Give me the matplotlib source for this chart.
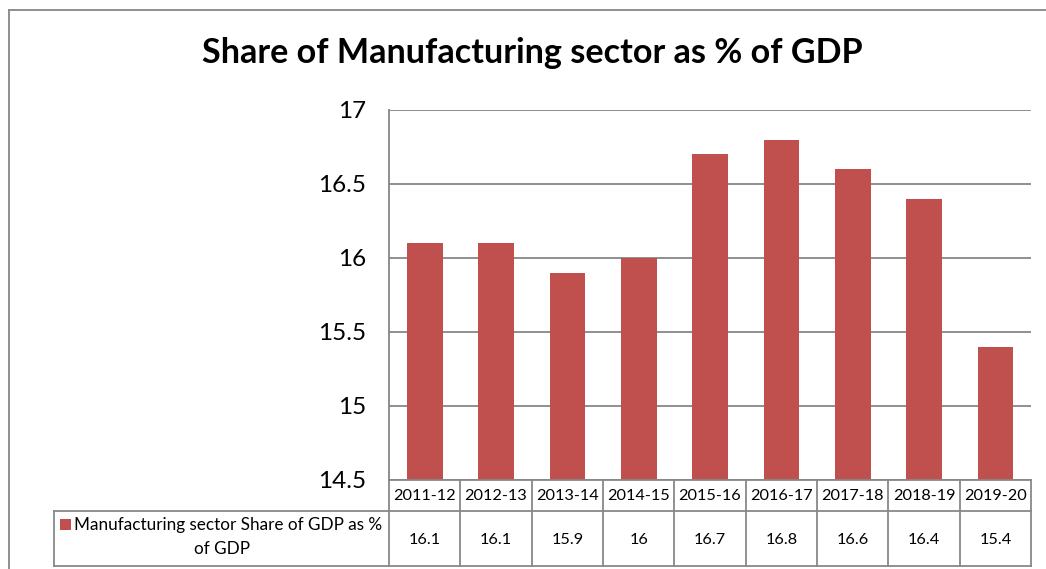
import matplotlib
matplotlib.use("Agg")
import matplotlib.pyplot as plt
from matplotlib.lines import Line2D
from matplotlib.patches import Rectangle

years = ["2011-12", "2012-13", "2013-14", "2014-15", "2015-16",
         "2016-17", "2017-18", "2018-19", "2019-20"]
share = [16.1, 16.1, 15.9, 16.0, 16.7, 16.8, 16.6, 16.4, 15.4]
value_labels = ["16.1", "16.1", "15.9", "16", "16.7", "16.8", "16.6", "16.4", "15.4"]
series_name = "Manufacturing sector Share of GDP as %"
series_name_2 = "of GDP"
title = "Share of Manufacturing sector as % of GDP"
y_ticks = [14.5, 15, 15.5, 16, 16.5, 17]
y_tick_labels = ["14.5", "15", "15.5", "16", "16.5", "17"]

W, H = 1046, 569
BAR = "#C0504D"
GRID = "#868686"
FONT = "Lato"

fig = plt.figure(figsize=(W / 100, H / 100), dpi=100)

def fx(px):
    return px / W

def fy(py):
    return 1 - py / H

# plot area
x0, x1 = 389, 1031
ytop, ybot = 110, 480
ax = fig.add_axes([fx(x0), fy(ybot), fx(x1) - fx(x0), fy(ytop) - fy(ybot)])
n = len(years)
xs = list(range(n))
ax.bar(xs, share, width=0.5, color=BAR, zorder=3, bottom=0)
ax.set_xlim(-0.5, n - 0.5)
ax.set_ylim(14.5, 17)
ax.set_yticks(y_ticks)
ax.set_yticklabels(y_tick_labels, fontsize=17.5, family=FONT)
ax.tick_params(axis="y", length=0, pad=16.5)
ax.set_xticks([])
for s in ["top", "right", "bottom"]:
    ax.spines[s].set_visible(False)
ax.spines["left"].set_color(GRID)
ax.spines["left"].set_linewidth(1.3)
ax.yaxis.grid(True, color=GRID, linewidth=1.3, zorder=0)
ax.set_axisbelow(True)

# title
fig.text(fx(532), fy(53), title, ha="center", va="center",
         fontsize=24.6, fontweight="bold", family=FONT)

# outer chart border (cropped at right and bottom)
fig.add_artist(Line2D([fx(9), fx(9)], [fy(10), fy(H + 5)], color=GRID, lw=1.3))
fig.add_artist(Line2D([fx(9), fx(W + 5)], [fy(10), fy(10)], color=GRID, lw=1.3))

# data table below the plot
col_w = (x1 - x0) / n
row_top, row_mid, row_bot = 480, 511, 566
leg_left = 54
tc = "#888888"
lw = 1.3

def hline(y, xa, xb):
    fig.add_artist(Line2D([fx(xa), fx(xb)], [fy(y), fy(y)], color=tc, lw=lw))

def vline(x, ya, yb):
    fig.add_artist(Line2D([fx(x), fx(x)], [fy(ya), fy(yb)], color=tc, lw=lw))

hline(row_top, x0, x1)
hline(row_mid, leg_left, x1)
hline(row_bot, leg_left, x1)
vline(leg_left, row_mid, row_bot)
for i in range(n + 1):
    vline(x0 + i * col_w, row_top, row_bot)

for i, (yr, v) in enumerate(zip(years, value_labels)):
    cx = x0 + (i + 0.5) * col_w
    fig.text(fx(cx), fy((row_top + row_mid) / 2 + 1), yr, ha="center", va="center",
             fontsize=11.7, family=FONT)
    fig.text(fx(cx), fy((row_mid + row_bot) / 2 + 1), v, ha="center", va="center",
             fontsize=11.7, family=FONT)

# legend key cell
renderer = fig.canvas.get_renderer()
cell_cx = (leg_left + x0) / 2
sq = 11
gap = 3
t1 = fig.text(0, 0, series_name, ha="left", va="center", fontsize=12.3, family=FONT)
tw = t1.get_window_extent(renderer).width
total = sq + gap + tw
start = cell_cx - total / 2
t1.set_position((fx(start + sq + gap), fy(525)))
fig.add_artist(Rectangle((fx(start), fy(530)), fx(sq), fy(0) - fy(sq),
                         facecolor=BAR, edgecolor="none", transform=fig.transFigure))
fig.text(fx(cell_cx), fy(549), series_name_2, ha="center", va="center",
         fontsize=12.3, family=FONT)

fig.savefig("out.png", dpi=100)
